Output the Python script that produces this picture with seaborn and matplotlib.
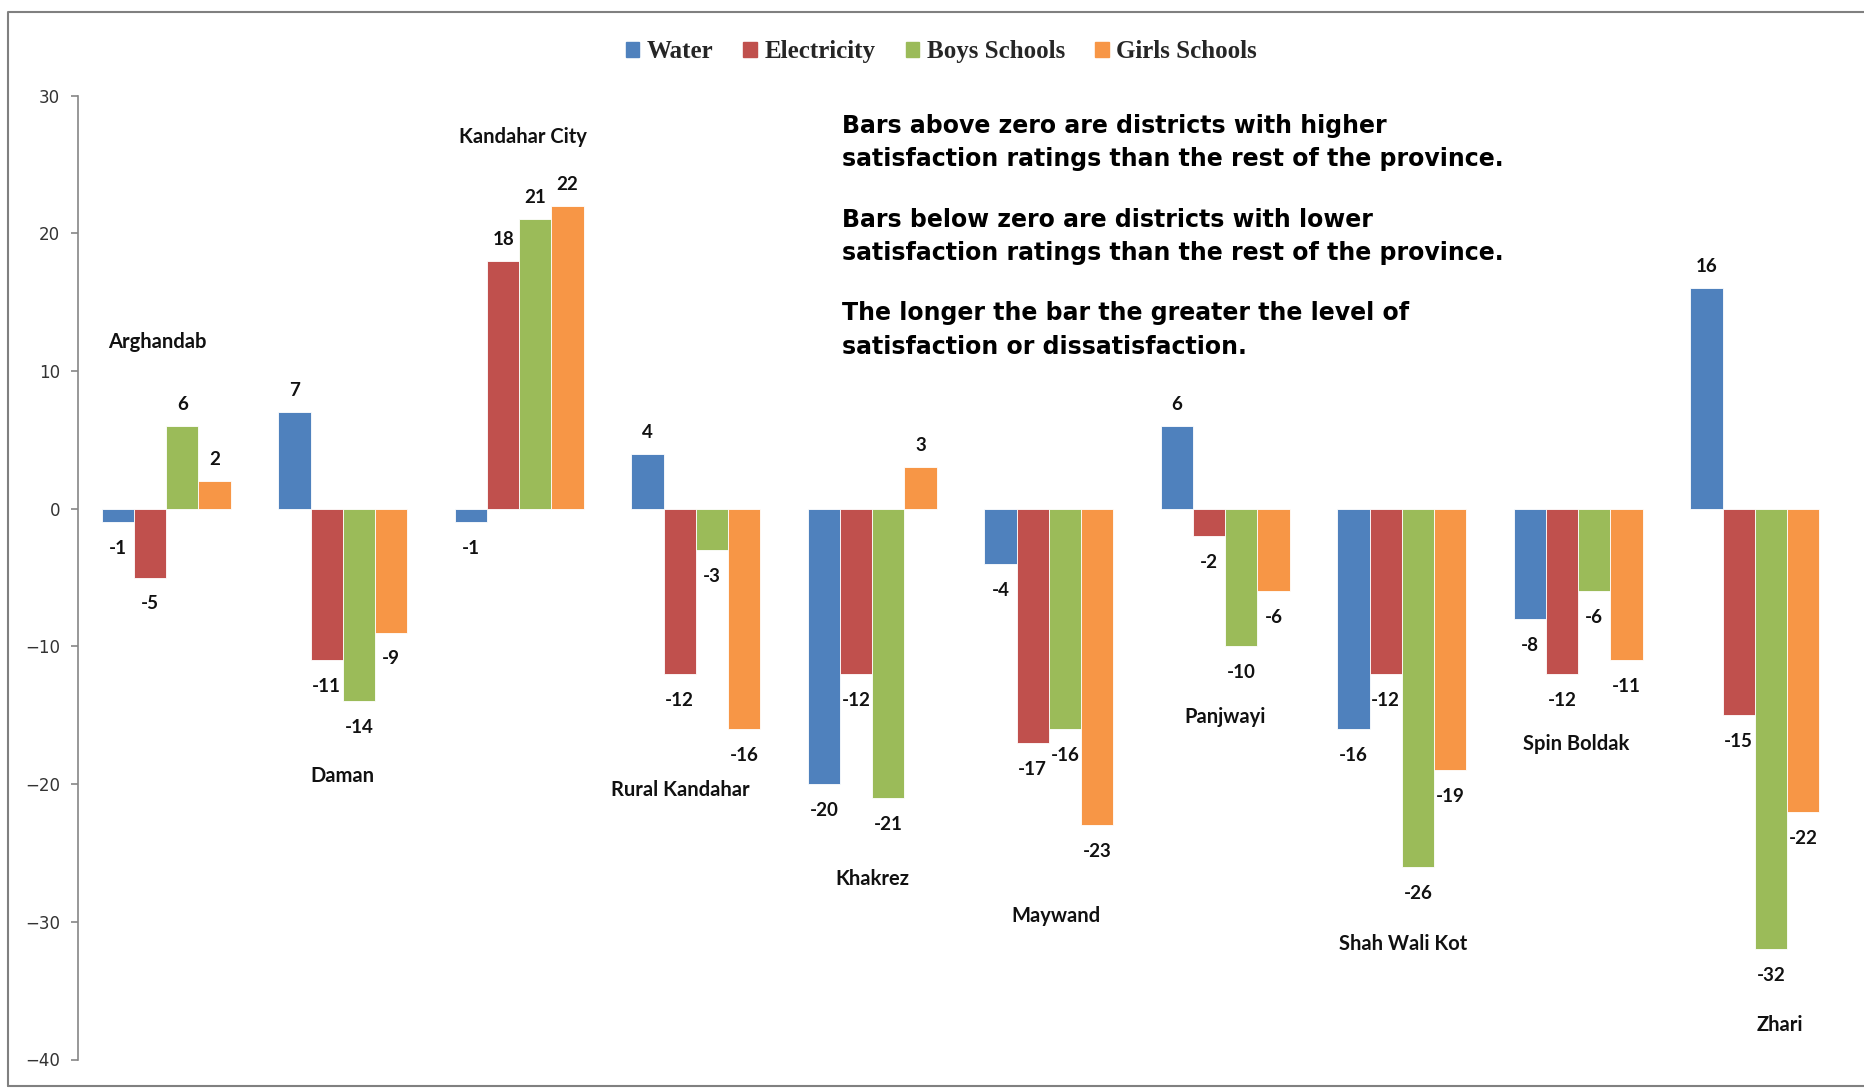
import numpy as np
import pandas as pd
import matplotlib
matplotlib.use("Agg")
import matplotlib.pyplot as plt
from matplotlib.patches import Patch
from matplotlib.lines import Line2D
import seaborn as sns

# District satisfaction relative to the rest of Kandahar province
districts = ["Arghandab", "Daman", "Kandahar City", "Rural Kandahar", "Khakrez",
             "Maywand", "Panjwayi", "Shah Wali Kot", "Spin Boldak", "Zhari"]
services = ["Water", "Electricity", "Boys Schools", "Girls Schools"]

water = [-1, 7, -1, 4, -20, -4, 6, -16, -8, 16]
electricity = [-5, -11, 18, -12, -12, -17, -2, -12, -12, -15]
boys_schools = [6, -14, 21, -3, -21, -16, -10, -26, -6, -32]
girls_schools = [2, -9, 22, -16, 3, -23, -6, -19, -11, -22]

colors = ["#4F81BD", "#C0504D", "#9BBB59", "#F79646"]
y_ticks = [-40, -30, -20, -10, 0, 10, 20, 30]

notes = [
    ["Bars above zero are districts with higher",
     "satisfaction ratings than the rest of the province."],
    ["Bars below zero are districts with lower",
     "satisfaction ratings than the rest of the province."],
    ["The longer the bar the greater the level of",
     "satisfaction or dissatisfaction."],
]

series = [water, electricity, boys_schools, girls_schools]
df = pd.DataFrame({
    "District": np.tile(districts, len(services)),
    "Service": np.repeat(services, len(districts)),
    "Score": np.concatenate(series),
})

sns.set_style("white")
plt.rcParams["font.family"] = ["DejaVu Sans"]

fig = plt.figure(figsize=(18.64, 10.88), dpi=100)
ax = fig.add_axes([78 / 1864, 1 - 1059.5 / 1088, (1843 - 78) / 1864, (1059.5 - 95.5) / 1088])

sns.barplot(data=df, x="District", y="Score", hue="Service",
            order=districts, hue_order=services, palette=colors, saturation=1,
            width=0.73, errorbar=None, legend=False,
            edgecolor="white", linewidth=0.6, ax=ax)

ax.set_xlim(-0.5, len(districts) - 0.5)
ax.set_ylim(-40, 30)
ax.set_yticks(y_ticks)
ax.set_xlabel("")
ax.set_ylabel("")
ax.set_xticks([])
for side in ("top", "right", "bottom"):
    ax.spines[side].set_visible(False)
ax.spines["left"].set_color("#868686")
ax.spines["left"].set_linewidth(1.2)
ax.tick_params(axis="y", direction="out", length=5, width=1.2, color="#868686",
               pad=8, labelsize=12, labelcolor="#333333", left=True)

# value labels at the outer end of every bar
for container, values in zip(ax.containers, series):
    for bar, v in zip(container, values):
        xc = bar.get_x() + bar.get_width() / 2
        off = 15.5 if v >= 0 else -19.0
        ax.annotate(f"{v}", xy=(xc, v), xytext=(0, off), textcoords="offset points",
                    ha="center", va="center", fontsize=13.5, fontweight="bold",
                    family="Lato", color="#111111")

# district names placed near each group
name_pos = {
    "Arghandab": (-0.05, 12.1),
    "Daman": (0.0, -19.4),
    "Kandahar City": (0.02, 27.0),
    "Rural Kandahar": (-0.09, -20.4),
    "Khakrez": (0.0, -26.9),
    "Maywand": (0.04, -29.6),
    "Panjwayi": (0.0, -15.1),
    "Shah Wali Kot": (0.01, -31.6),
    "Spin Boldak": (-0.01, -17.1),
    "Zhari": (0.14, -37.5),
}
for i, name in enumerate(districts):
    dx, y = name_pos[name]
    ax.text(i + dx, y, name, ha="center", va="center", fontsize=14.5,
            fontweight="bold", family="Lato", color="#111111")

# explanatory notes
line_y = [[126, 159], [220, 253], [313, 347]]
for para, ys in zip(notes, line_y):
    for line, yp in zip(para, ys):
        fig.text(842 / 1864, 1 - yp / 1088, line, ha="left", va="center",
                 fontsize=17, fontweight="bold", family="DejaVu Sans", color="black")

# legend across the top
handles = [Patch(facecolor=c, edgecolor=c) for c in colors]
fig.legend(handles, services, loc="center", bbox_to_anchor=(0.505, 1 - 51.5 / 1088),
           ncol=4, frameon=False, handlelength=0.55, handleheight=0.55,
           handletextpad=0.3, columnspacing=1.2,
           prop={"family": "Liberation Serif", "weight": "bold", "size": 18})

# outer chart border
bx0, by0, bx1, by1 = 8 / 1864, 1 - 1086 / 1088, 1.01, 1 - 12 / 1088
fig.add_artist(Line2D([bx0, bx0, bx1], [by0, by1, by1], transform=fig.transFigure,
                      color="#808080", linewidth=1.5))
fig.add_artist(Line2D([bx0, bx1], [by0, by0], transform=fig.transFigure,
                      color="#808080", linewidth=1.5))

fig.savefig("out.png", dpi=100)
